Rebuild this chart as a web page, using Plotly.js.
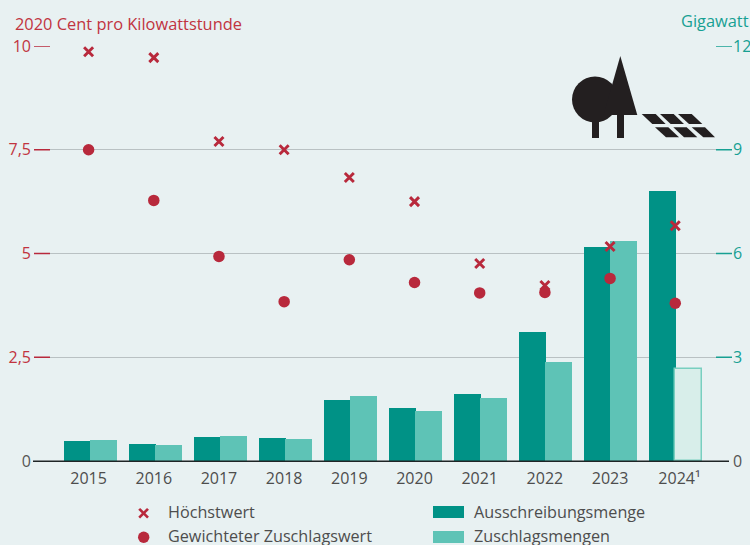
<!DOCTYPE html>
<html><head><meta charset="utf-8">
<script src="https://cdn.plot.ly/plotly-3.0.1.min.js"></script>
<style>html,body{margin:0;padding:0;background:#e8f1f2}</style></head>
<body><div id="chart" style="width:750px;height:545px"></div>
<script>
const years = ['2015','2016','2017','2018','2019','2020','2021','2022','2023','2024'];
const yearLabels = ['2015','2016','2017','2018','2019','2020','2021','2022','2023','\u00a0\u00a02024¹'];
const ausschreibung = [0.59,0.5,0.68,0.66,1.76,1.53,1.94,3.74,6.2,7.82];
const zuschlag = [0.62,0.47,0.72,0.63,1.88,1.45,1.82,2.86,6.35,2.65];
const hoechstwert = [9.86,9.72,7.7,7.5,6.83,6.25,4.76,4.23,5.17,5.67];
const gewichtet = [7.5,6.28,4.93,3.84,4.85,4.3,4.05,4.06,4.4,3.8];
const leftVals = [0,2.5,5,7.5,10];
const leftText = ['<span style="color:#555">0</span>','2,5','5','7,5','10'];
const rightVals = [0,3,6,9,12];
const rightText = ['<span style="color:#555">0</span>','3','6','9','12'];
const legendNames = ['Höchstwert','Gewichteter Zuschlagswert','Ausschreibungsmenge','Zuschlagsmengen'];

const RED='#b8293c', TEAL='#009286', LIGHT='#5ec3b6', GREY='#4d4d4d', BG='#e8f1f2', FONT='"Open Sans", "Noto Sans", sans-serif';
const L=50,R=716,T=46,B=461;
const X=p=>(p-L)/(R-L), Y=p=>(B-p)/(B-T);
const poly=pts=>'M'+pts.map(q=>X(q[0]).toFixed(5)+','+Y(q[1]).toFixed(5)).join(' L')+' Z';
const ps=(fill,pts)=>({type:'path',xref:'paper',yref:'paper',path:poly(pts),fillcolor:fill,line:{width:0},layer:'above'});
const rect=(x0,y0,x1,y1,fill)=>({type:'rect',xref:'paper',yref:'paper',x0:X(x0),x1:X(x1),y0:Y(y0),y1:Y(y1),fillcolor:fill,line:{width:0},layer:'above'});
const ICON='#231f20';
const z=(a,b)=>[540+a/3,b/3];
const tickL=leftVals.filter(v=>v>0).map(v=>({type:'line',xref:'paper',yref:'y2',x0:X(34),x1:X(50),y0:v,y1:v,line:{color:RED,width:1.5},layer:'above'}));
const tickR=rightVals.filter(v=>v>0).map(v=>({type:'line',xref:'paper',yref:'y',x0:X(716),x1:X(732),y0:v,y1:v,line:{color:'#17a093',width:1.5},layer:'above'}));
const shapes=[...tickL,...tickR,
 {type:'line',xref:'paper',yref:'paper',x0:X(33),x1:X(729),y0:Y(461.3),y1:Y(461.3),line:{color:'#1f2526',width:1.5},layer:'above'},
 {type:'circle',xref:'paper',yref:'paper',x0:X(572),x1:X(618),y0:Y(76.5),y1:Y(122.5),fillcolor:ICON,line:{width:0},layer:'above'},
 rect(592,120,599,138,ICON), rect(617,113,624,138,ICON),
 ps(ICON,[[620.3,56],[637.3,115],[603.5,115]]),
 ps(ICON,[z(305,342),z(347,342),z(377,372),z(337,372)]),
 ps(ICON,[z(360,342),z(401,342),z(432,372),z(392,372)]),
 ps(ICON,[z(414,342),z(455,342),z(487,372),z(447,372)]),
 ps(ICON,[z(345,382),z(385,382),z(417,412),z(378,412)]),
 ps(ICON,[z(400,382),z(440,382),z(472,412),z(432,412)]),
 ps(ICON,[z(455,382),z(495,382),z(525,412),z(490,412)]),
 rect(433,506,464,518,TEAL), rect(433,531,464,543,LIGHT),
 {type:'line',xref:'paper',yref:'paper',x0:X(139.2),x1:X(148),y0:Y(508.8),y1:Y(517.6),line:{color:RED,width:2.6},layer:'above'},
 {type:'line',xref:'paper',yref:'paper',x0:X(139.2),x1:X(148),y0:Y(517.6),y1:Y(508.8),line:{color:RED,width:2.6},layer:'above'},
 {type:'circle',xref:'paper',yref:'paper',x0:X(138),x1:X(149.4),y0:Y(531.5),y1:Y(542.9),fillcolor:RED,line:{width:0},layer:'above'}
];
const note=(t,px,py,col,size,anchor)=>({text:t,xref:'paper',yref:'paper',x:X(px),y:Y(py),xanchor:anchor||'left',yanchor:'middle',showarrow:false,borderpad:0,borderwidth:0,font:{family:FONT,size:size,color:col}});
const annotations=[
 note('2020 Cent pro Kilowattstunde',15,23,'#c1343f',16.4),
 note('Gigawatt',749,20,'#17a093',16.4,'right'),
 note(legendNames[0],167.5,512,GREY,16.2), note(legendNames[1],167.5,536,GREY,16.2),
 note(legendNames[2],473.5,512,GREY,16.2), note(legendNames[3],473.5,536,GREY,16.2)
];
const data=[
 {type:'bar',x:years,y:ausschreibung,xaxis:'x',yaxis:'y',offset:-0.369,width:0.408,marker:{color:TEAL,line:{width:0}},name:legendNames[2]},
 {type:'bar',x:years,y:zuschlag,xaxis:'x',yaxis:'y',offset:0.036,width:0.41,
  marker:{color:[LIGHT,LIGHT,LIGHT,LIGHT,LIGHT,LIGHT,LIGHT,LIGHT,LIGHT,'#d8eeea'],
  line:{color:[LIGHT,LIGHT,LIGHT,LIGHT,LIGHT,LIGHT,LIGHT,LIGHT,LIGHT,'#79cfc0'],width:[0,0,0,0,0,0,0,0,0,1.5]}},name:legendNames[3]},
 {type:'scatter',mode:'markers',x:years,y:hoechstwert,xaxis:'x2',yaxis:'y2',name:legendNames[0],marker:{symbol:'x-thin',size:9,color:RED,line:{width:2.9,color:RED}}},
 {type:'scatter',mode:'markers',x:years,y:gewichtet,xaxis:'x2',yaxis:'y2',name:legendNames[1],marker:{symbol:'circle',size:11.5,color:RED,line:{width:0}}}
];
const layout={
 width:750,height:545,paper_bgcolor:BG,plot_bgcolor:BG,showlegend:false,bargap:0,
 margin:{l:L,r:750-R,t:T,b:545-B,pad:0},font:{family:FONT,size:16,color:GREY},
 barmode:'overlay',
 xaxis:{type:'category',range:[-0.5846,9.6615],showgrid:false,zeroline:false,showline:false,ticks:'',showticklabels:false,fixedrange:true},
 xaxis2:{type:'category',overlaying:'x',anchor:'y2',side:'bottom',range:[-0.592,9.625],showgrid:false,zeroline:false,showline:false,ticks:'',tickmode:'array',tickvals:years,ticktext:yearLabels,tickfont:{family:FONT,size:16,color:GREY},ticklabelstandoff:6,fixedrange:true},
 yaxis:{side:'right',range:[0,12],tickmode:'array',tickvals:rightVals,ticktext:rightText,ticks:'',ticklabelstandoff:16,
   tickfont:{family:FONT,size:16,color:'#17a093'},showgrid:true,gridcolor:'#b9c1c3',gridwidth:1.2,zeroline:false,showline:false,fixedrange:true},
 yaxis2:{side:'left',overlaying:'y',range:[0,10],tickmode:'array',tickvals:leftVals,ticktext:leftText,ticks:'',ticklabelstandoff:18,
   tickfont:{family:FONT,size:16,color:'#c1343f'},showgrid:false,zeroline:false,showline:false,fixedrange:true},
 shapes,annotations
};
Plotly.newPlot('chart',data,layout,{displayModeBar:false,responsive:false});
</script></body></html>
